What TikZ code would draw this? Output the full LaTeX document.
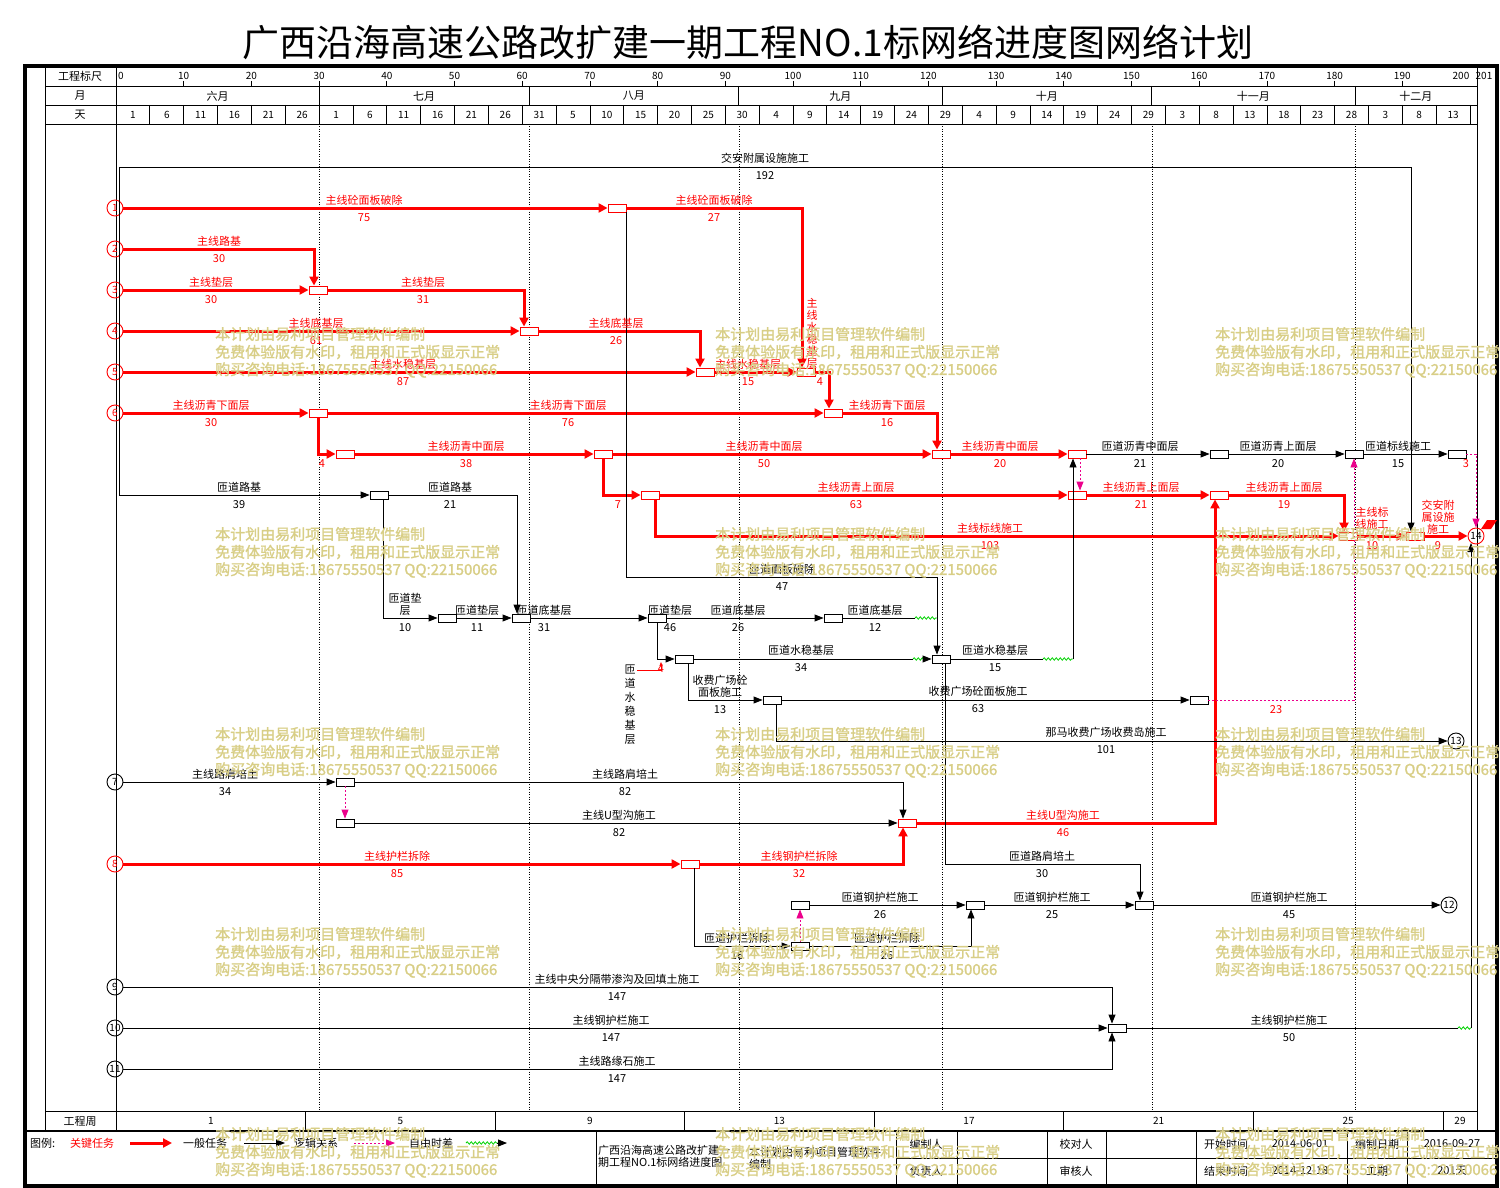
\documentclass[tikz,border=0pt]{standalone}
\usepackage{fontspec}
\setmainfont{Noto Sans CJK SC}
\newfontfamily\wmfam{Noto Sans CJK SC}[FakeBold=1.5]
\usetikzlibrary{arrows.meta,decorations.pathmorphing,calc}

\definecolor{wmark}{RGB}{216,206,134}
\definecolor{slackgreen}{RGB}{0,210,0}
\newcommand\labfont{\fontsize{11}{12}\selectfont}
\newcommand\numfont{\fontsize{10}{12}\selectfont}
\newcommand\wmfont{\wmfam\fontsize{15}{18}\selectfont}

\tikzset{
  grid/.style={draw=black, line width=0.8pt},
  monthline/.style={draw=black, line width=0.6pt, dash pattern=on 1pt off 1.5pt},
  crit/.style={draw=red, line width=3pt, -{Triangle[length=9pt,width=9pt]}},
  norm/.style={draw=black, line width=0.9pt, -{Triangle[length=9pt,width=7pt]}},
  plain/.style={draw=black, line width=0.9pt},
  logic/.style={draw=magenta, line width=0.9pt, dash pattern=on 2pt off 2pt, -{Triangle[length=9pt,width=7pt]}},
  slack/.style={draw=slackgreen, line width=0.8pt, decorate, decoration={snake, amplitude=1.2pt, segment length=4pt}},
  evr/.style={draw=red, line width=0.9pt, fill=white, minimum width=18pt, minimum height=8pt, inner sep=0pt},
  evk/.style={draw=black, line width=0.9pt, fill=white, minimum width=18pt, minimum height=8pt, inner sep=0pt},
  start/.style={circle, line width=0.9pt, minimum size=16pt, inner sep=0pt, font=\numfont},
  hd/.style={font=\labfont, inner sep=0pt},
  hdn/.style={font=\numfont, inner sep=0pt},
  lab/.style={font=\labfont, inner sep=0pt, align=center},
  labr/.style={lab, text=red},
  wm/.style={text=wmark, font=\wmfont, anchor=west, inner sep=0pt}
}

\begin{document}
\begin{tikzpicture}[x=1pt,y=-1pt]
\useasboundingbox (0,0) rectangle (1500,1188);

% title
\node[font=\fontsize{37}{40}\selectfont, inner sep=0pt] (title) at (748,42) {广西沿海高速公路改扩建一期工程NO.1标网络进度图网络计划};

% frame and header grid
\draw[line width=4pt] (25,66) rectangle (1497,1186);
\draw[grid] (45,66) -- (45,1131) (116,66) -- (116,1131) (1477,66) -- (1477,1131);
\draw[grid] (45,86) -- (1477,86) (45,105) -- (1477,105) (45,124) -- (1477,124) (45,1111) -- (1477,1111);
\draw[line width=2pt] (25,1131) -- (1497,1131);
\node[hd] (h1) at (80,76) {工程标尺};
\node[hd] (h2) at (80,96) {月};
\node[hd] (h3) at (80,115) {天};
\node[hd] (h4) at (80,1121) {工程周};

% scale
\node[hdn, anchor=west] (t0) at (118,76) {0};
\foreach \t in {10,20,...,190} {
  \node[hdn] (t\t) at ({116+6.77*\t},76) {\t};
  \draw[grid] ({116+6.77*\t},81) -- ({116+6.77*\t},86);
}
\node[hdn] (t200) at (1461,76) {200};
\node[hdn] (t201) at (1484,76) {201};

% months
\foreach \m/\c [count=\i] in {六月/15,七月/45.5,八月/76.5,九月/107,十月/137.5,十一月/168,十二月/192}
  \node[hd] (mon\i) at ({116+6.77*\c},96) {\m};
\foreach \t in {30,61,92,122,153,183} {
  \draw[grid] ({116+6.77*\t},86) -- ({116+6.77*\t},105);
  \draw[monthline] ({116+6.77*\t},124) -- ({116+6.77*\t},1111);
}

% days
\foreach \d [count=\i from 0] in {1,6,11,16,21,26,1,6,11,16,21,26,31,5,10,15,20,25,30,4,9,14,19,24,29,4,9,14,19,24,29,3,8,13,18,23,28,3,8,13}
  \node[hdn] (day\i) at ({116+6.77*(5*\i+2.5)},115) {\d};
\foreach \i in {1,...,40}
  \draw[grid] ({116+33.85*\i},105) -- ({116+33.85*\i},124);

% weeks
\foreach \w [count=\i from 0] in {1,5,...,25} {
  \node[hdn] (wk\w) at ({116+6.77*(28*\i+14)},1121) {\w};
  \draw[grid] ({116+6.77*28*(\i+1)},1111) -- ({116+6.77*28*(\i+1)},1131);
}
\node[hdn] (wk29) at (1460,1121) {29};

% start and end events
\foreach \n/\y/\c in {1/208/red,2/249/red,3/290/red,4/331/red,5/372/red,6/413/red,7/782/black,8/864/red,9/987/black,10/1028/black,11/1069/black}
  \node[start, draw=\c, text=\c] (s\n) at (115,\y) {\n};
\node[start, draw=black] (n12) at (1449,905) {12};
\node[start, draw=black] (n13) at (1456,741) {13};
\node[start, draw=red] (n14) at (1476,536) {14};
\fill[red] (1481,529) -- (1487,520) -- (1497,520) -- (1491,529) -- cycle;

% boxes
\foreach \n/\x/\y in {e1a/617/208, e3a/318/290, e4a/529/331, e5a/705/372, e5b/806/372, e6a/318/413, e6b/833/413,
  e7a/345/454, e7b/603/454, e7c/941/454, e7d/1077/454, e8b/650/495, e8c/1077/495, e8d/1219/495,
  e9a/1348/536, e9b/1415/536, e16b/907/823, e17a/690/864}
  \node[evr] (\n) at (\x,\y) {};
\foreach \n/\x/\y in {e7e/1219/454, e7f/1354/454, e7g/1457/454, e8a/379/495, e11a/447/618, e11b/521/618,
  e11c/657/618, e11d/833/618, e12a/684/659, e12b/941/659, e13a/772/700, e13b/1199/700, e15a/345/782,
  e16a/345/823, e18a/800/905, e18b/975/905, e18c/1144/905, e19a/800/946, e21a/1117/1028}
  \node[evk] (\n) at (\x,\y) {};

\coordinate (lt) at (119,167);
\coordinate (lb) at (119,495);
\coordinate (c10) at (937,577);
\coordinate (c11) at (1140,864);
\coordinate (w1a) at (915,618);
\coordinate (w1b) at (937,618);
\coordinate (w2a) at (913,659);
\coordinate (w2b) at (924,659);
\coordinate (w3a) at (1043,659);
\coordinate (w3b) at (1073,659);
\coordinate (w4a) at (1458,1028);
\coordinate (w4b) at (1471,1028);
\coordinate (n14b) at (1471,543);

% critical tasks
\draw[crit] (s1) -- (e1a);
\draw[crit] (e1a) -| ($(e5b.north)+(-4,0)$);
\draw[crit] (s2) -| ($(e3a.north)+(-4,0)$);
\draw[crit] (s3) -- (e3a);
\draw[crit] (e3a) -| ($(e4a.north)+(-5,0)$);
\draw[crit] (s4) -- (e4a);
\draw[crit] (e4a) -| ($(e5a.north)+(-5,0)$);
\draw[crit] (s5) -- (e5a);
\draw[crit] (e5a) -- (e5b);
\draw[crit] (e5b) -| ($(e6b.north)+(-4,0)$);
\draw[crit] (s6) -- (e6a);
\draw[crit] (e6a) -- (e6b);
\draw[crit] (e6b) -| ($(e7c.north)+(-4,0)$);
\draw[crit] (e6a) |- (e7a);
\draw[crit] (e7a) -- (e7b);
\draw[crit] (e7b) -- (e7c);
\draw[crit] (e7c) -- (e7d);
\draw[crit] (e7b) |- (e8b);
\draw[crit] (e8b) -- (e8c);
\draw[crit] (e8c) -- (e8d);
\draw[crit] (e8d) -| ($(e9a.north)+(-4,0)$);
\draw[crit] ($(e8b.south)+(5,0)$) |- (e9a);
\draw[crit] (e9a) -- (e9b);
\draw[crit] (e9b) -- (n14);
\draw[crit] (s8) -- (e17a);
\draw[crit] (e17a) -| ($(e16b.south)+(-4,0)$);
\draw[crit] (e16b) -| ($(e8d.south)+(-4,0)$);

% general tasks
\draw[plain] (lt) -- (lb);
\draw[norm] (lt) -| ($(e9b.north)+(-4,0)$);
\draw[norm] (lb) -- (e8a);
\draw[norm] (e8a) -| ($(e11b.north)+(-4,0)$);
\draw[norm] ($(e8a.south)+(4,0)$) |- (e11a);
\draw[norm] (e11a) -- (e11b);
\draw[norm] (e11b) -- (e11c);
\draw[norm] (e11c) -- (e11d);
\draw[plain] (e11d) -- (w1a);
\draw[slack] (w1a) -- (w1b);
\draw[norm] (e1a.south east) |- (c10) -- ($(e12b.north)+(-4,0)$);
\draw[norm] (e11c) |- (e12a);
\draw[plain] (e12a) -- (w2a);
\draw[slack] (w2a) -- (w2b);
\draw[norm] (w2b) -- (e12b);
\draw[plain] (e12b) -- (w3a);
\draw[slack] (w3a) -- (w3b);
\draw[norm] (w3b) -- (w3b |- e7d.south);
\draw[logic] ($(e7d.south)+(3,0)$) -- ($(e8c.north)+(3,0)$);
\draw[norm] (e7d) -- (e7e);
\draw[norm] (e7e) -- (e7f);
\draw[norm] (e7f) -- (e7g);
\draw[logic] (e7g) -| (n14);
\draw[logic] (e13b) -| (e7f);
\draw[norm] ($(e12a.south)+(4,0)$) |- (e13a);
\draw[norm] (e13a) -- (e13b);
\draw[norm] ($(e13a.south)+(4,0)$) |- (n13);
\draw[norm] ($(e12b.south)+(4,0)$) |- (c11) -- ($(e18c.north)+(-4,0)$);
\draw[norm] (s7) -- (e15a);
\draw[norm] (e15a) -| ($(e16b.north)+(-4,0)$);
\draw[logic] (e15a) -- (e16a);
\draw[norm] (e16a) -- (e16b);
\draw[norm] ($(e17a.south)+(4,0)$) |- (e19a);
\draw[logic] (e19a) -- (e18a);
\draw[norm] (e18a) -- (e18b);
\draw[norm] (e19a) -| ($(e18b.south)+(-4,0)$);
\draw[norm] (e18b) -- (e18c);
\draw[norm] (e18c) -- (n12);
\draw[norm] (s9) -| ($(e21a.north)+(-5,0)$);
\draw[norm] (s10) -- (e21a);
\draw[norm] (s11) -| ($(e21a.south)+(-5,0)$);
\draw[plain] (e21a) -- (w4a);
\draw[slack] (w4a) -- (w4b);
\draw[norm] (w4b) -- (n14b);
\draw[red, line width=0.6pt, -{Triangle[length=4pt,width=3pt]}] (637,670) -| (661,662);

% task labels
\foreach \x/\y/\t/\d [count=\i] in {364/200/主线砼面板破除/75, 714/200/主线砼面板破除/27, 219/241/主线路基/30,
  211/282/主线垫层/30, 423/282/主线垫层/31, 316/323/主线底基层/61, 616/323/主线底基层/26,
  403/364/主线水稳基层/87, 748/364/主线水稳基层/15, 211/405/主线沥青下面层/30, 568/405/主线沥青下面层/76,
  887/405/主线沥青下面层/16, 466/446/主线沥青中面层/38, 764/446/主线沥青中面层/50, 1000/446/主线沥青中面层/20,
  856/487/主线沥青上面层/63, 1141/487/主线沥青上面层/21, 1284/487/主线沥青上面层/19, 990/528/主线标线施工/103,
  1063/815/主线U型沟施工/46, 397/856/主线护栏拆除/85, 799/856/主线钢护栏拆除/32} {
  \node[labr] (rt\i) at (\x,\y) {\t};
  \node[labr] (rd\i) at (\x,\y+18) {\d};
}
\foreach \x/\y/\d [count=\i] in {820/382/4, 322/464/4, 1466/464/3, 618/505/7, 1372/546/10, 1438/546/9, 1276/710/23, 661/669/4}
  \node[labr] (rn\i) at (\x,\y) {\d};
\node[labr] (rv1) at (812,333) {主\\线\\水\\稳\\基\\层};
\node[labr] (rv2) at (1372,518) {主线标\\线施工};
\node[labr] (rv3) at (1438,517) {交安附\\属设施\\施工};

\foreach \x/\y/\t/\d [count=\i] in {765/158/交安附属设施施工/192, 239/487/匝道路基/39, 450/487/匝道路基/21,
  477/610/匝道垫层/11, 544/610/匝道底基层/31, 670/610/匝道垫层/46, 738/610/匝道底基层/26, 875/610/匝道底基层/12,
  782/569/匝道面板破除/47, 801/650/匝道水稳基层/34, 995/650/匝道水稳基层/15, 978/691/收费广场砼面板施工/63,
  1106/732/那马收费广场收费岛施工/101, 1140/446/匝道沥青中面层/21, 1278/446/匝道沥青上面层/20,
  1398/446/匝道标线施工/15, 225/774/主线路肩培土/34, 625/774/主线路肩培土/82, 619/815/主线U型沟施工/82,
  1042/856/匝道路肩培土/30, 880/897/匝道钢护栏施工/26, 1052/897/匝道钢护栏施工/25, 1289/897/匝道钢护栏施工/45,
  737/938/匝道护栏拆除/16, 887/938/匝道护栏拆除/26, 617/979/主线中央分隔带渗沟及回填土施工/147,
  611/1020/主线钢护栏施工/147, 617/1061/主线路缘石施工/147, 1289/1020/主线钢护栏施工/50} {
  \node[lab] (kt\i) at (\x,\y) {\t};
  \node[lab] (kd\i) at (\x,\y+18) {\d};
}
\node[lab] (kv1) at (405,604) {匝道垫\\层};
\node[lab] (kv1d) at (405,628) {10};
\node[lab] (kv2) at (720,686) {收费广场砼\\面板施工};
\node[lab] (kv2d) at (720,710) {13};
\node[lab, font=\fontsize{11}{14}\selectfont] (kv3) at (630,705) {匝\\道\\水\\稳\\基\\层};

% legend
\node[lab, anchor=west] (lg0) at (30,1143) {图例:};
\node[labr, anchor=west] (lg1) at (70,1143) {关键任务};
\draw[crit] (130,1143) -- (172,1143);
\node[lab, anchor=west] (lg2) at (183,1143) {一般任务};
\draw[norm] (244,1143) -- (285,1143);
\node[lab, anchor=west] (lg3) at (294,1143) {逻辑关系};
\draw[logic] (354,1143) -- (395,1143);
\node[lab, anchor=west] (lg4) at (409,1143) {自由时差};
\draw[slack] (466,1143) -- (498,1143);
\draw[norm] (497,1143) -- (507,1143);

% title block
\draw[grid] (596,1131) -- (596,1186);
\foreach \x in {896,957,1047,1106,1196,1347,1407} \draw[grid] (\x,1131) -- (\x,1186);
\draw[grid] (896,1158) -- (1497,1158);
\node[lab, anchor=west, align=left] (tb0) at (598,1156) {广西沿海高速公路改扩建一\\期工程NO.1标网络进度图};
\node[lab, anchor=west, align=left] (tb1) at (749,1158) {本计划由易利项目管理软件\\编制};
\foreach \x/\a/\b [count=\i] in {926/编制人/负责人, 1076/校对人/审核人, 1226/开始时间/结束时间, 1300/2014-06-01/2014-12-18, 1377/编制日期/工期, 1452/2016-09-27/201天} {
  \node[lab] (tu\i) at (\x,1144) {\a};
  \node[lab] (tl\i) at (\x,1171) {\b};
}

% watermark
\foreach \x in {215,715,1215} \foreach \y in {334,534,734,934,1134} {
  \node[wm] (wa-\x-\y) at (\x,\y) {本计划由易利项目管理软件编制};
  \node[wm] (wb-\x-\y) at (\x,\y+18) {免费体验版有水印，租用和正式版显示正常};
  \node[wm] (wc-\x-\y) at (\x,\y+36) {购买咨询电话:18675550537 QQ:22150066};
}
\end{tikzpicture}
\end{document}
